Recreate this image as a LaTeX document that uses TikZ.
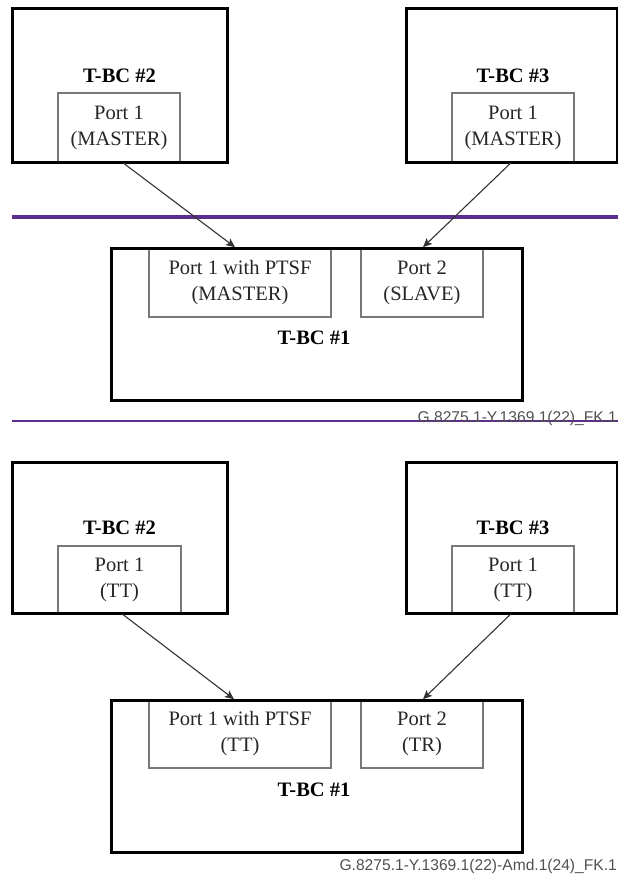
\documentclass[tikz,border=0pt]{standalone}
\usepackage{fontspec}
\setmainfont{Liberation Serif}
\newfontfamily\capfont{Liberation Sans}
\usetikzlibrary{arrows.meta}
\definecolor{ituviolet}{RGB}{91,45,142}
\definecolor{portgray}{RGB}{120,120,120}
\definecolor{capgray}{RGB}{80,80,80}
\tikzset{
  outerbox/.style={draw=black, line width=3pt, inner sep=0pt},
  portbox/.style={draw=portgray, line width=1.6pt, inner sep=0pt, align=center,
    font=\fontsize{20.5}{26}\selectfont, text=black!85},
  tbclabel/.style={font=\fontsize{20.5}{26}\selectfont\bfseries, inner sep=0pt},
  conn/.style={draw=black!80, line width=1.1pt, -{Stealth[length=9pt,width=8pt,inset=2pt]}},
  sepline/.style={draw=ituviolet},
  capt/.style={font=\capfont\fontsize{15.6}{18}\selectfont, text=capgray, inner sep=0pt, anchor=east}
}
\begin{document}
\begin{tikzpicture}[x=1pt,y=-1pt]
\useasboundingbox (0,0) rectangle (618,881);
% ===== Top figure =====
\node[portbox, minimum width=122pt, minimum height=69pt] (tpa) at (119,127.5) {Port 1\\(MASTER)};
\node[outerbox, minimum width=215pt, minimum height=154pt] (ta) at (119.5,85) {};
\node[tbclabel] (tla) at (119.5,76) {T-BC \#2};
\node[portbox, minimum width=122pt, minimum height=69pt] (tpb) at (513,127.5) {Port 1\\(MASTER)};
\node[outerbox, minimum width=211pt, minimum height=154pt] (tb) at (511.5,85) {};
\node[tbclabel] (tlb) at (513,76) {T-BC \#3};
\draw[sepline, line width=4.5pt] (12,217) -- (618,217);
\node[portbox, minimum width=182pt, minimum height=69pt] (tq1) at (240,282.5) {Port 1 with PTSF\\(MASTER)};
\node[portbox, minimum width=122pt, minimum height=69pt] (tq2) at (422,282.5) {Port 2\\(SLAVE)};
\node[outerbox, minimum width=411pt, minimum height=152pt] (tc) at (316.5,324) {};
\node[tbclabel] (tlc) at (314,338) {T-BC \#1};
\draw[conn] ([xshift=4pt]tpa.south) -- ([xshift=-5pt]tq1.north);
\draw[conn] ([xshift=-2pt]tpb.south) -- ([xshift=1pt]tq2.north);
\draw[sepline, line width=2pt] (12,421) -- (618,421);
\node[capt] (tcap) at (617,418) {G.8275.1-Y.1369.1(22)\_FK.1};
% ===== Bottom figure =====
\node[portbox, minimum width=123pt, minimum height=67pt] (bpa) at (119.5,579.5) {Port 1\\(TT)};
\node[outerbox, minimum width=215pt, minimum height=151pt] (ba) at (119.5,537.5) {};
\node[tbclabel] (bla) at (119.5,528) {T-BC \#2};
\node[portbox, minimum width=122pt, minimum height=67pt] (bpb) at (513,579.5) {Port 1\\(TT)};
\node[outerbox, minimum width=211pt, minimum height=151pt] (bb) at (511.5,537.5) {};
\node[tbclabel] (blb) at (513,528) {T-BC \#3};
\node[portbox, minimum width=182pt, minimum height=68pt] (bq1) at (240,734) {Port 1 with PTSF\\(TT)};
\node[portbox, minimum width=122pt, minimum height=68pt] (bq2) at (422,734) {Port 2\\(TR)};
\node[outerbox, minimum width=411pt, minimum height=152pt] (bc) at (316.5,776) {};
\node[tbclabel] (blc) at (314,790) {T-BC \#1};
\draw[conn] ([xshift=2.5pt]bpa.south) -- ([xshift=-6pt]bq1.north);
\draw[conn] ([xshift=-2pt]bpb.south) -- ([xshift=1pt]bq2.north);
\node[capt] (bcap) at (617,866) {G.8275.1-Y.1369.1(22)-Amd.1(24)\_FK.1};
\end{tikzpicture}
\end{document}
